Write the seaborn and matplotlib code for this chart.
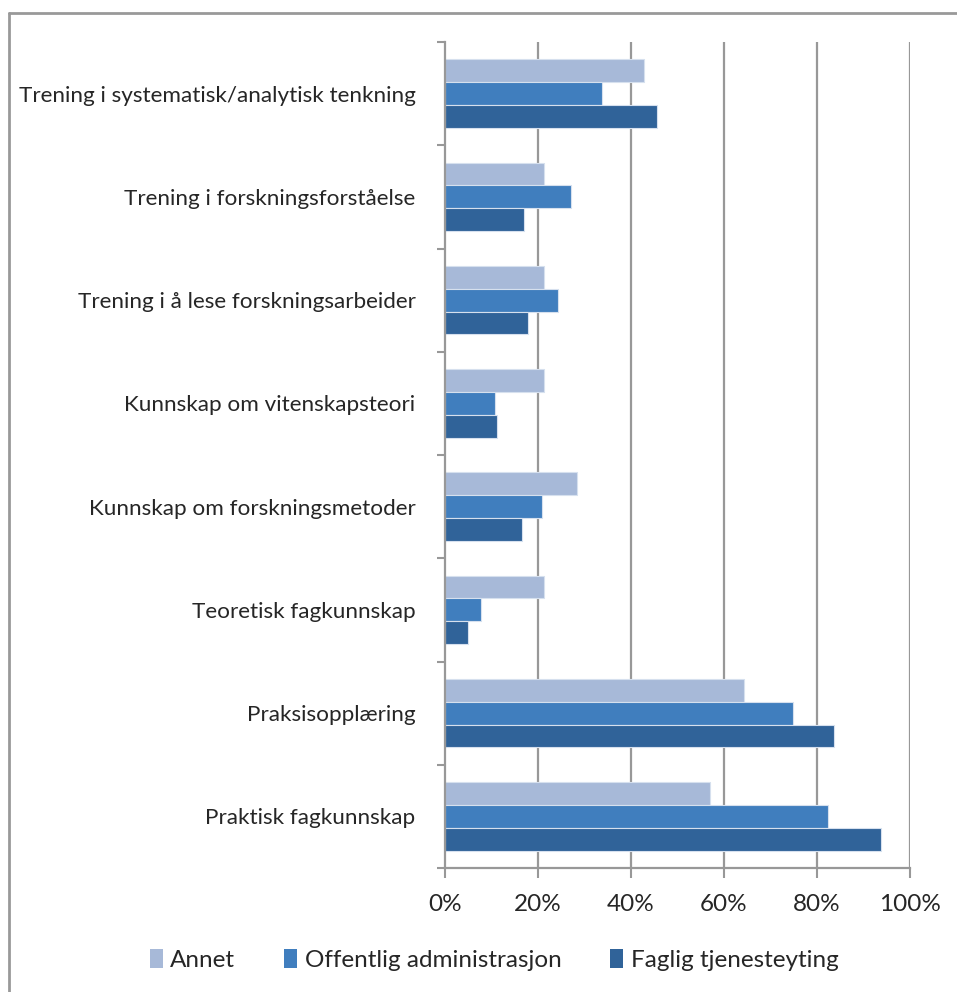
import matplotlib
matplotlib.use("Agg")
import matplotlib.pyplot as plt
from matplotlib.lines import Line2D
from matplotlib.patches import Patch
from matplotlib.ticker import FixedLocator, FuncFormatter
import seaborn as sns
import pandas as pd

# Data (percent)
categories = [
    "Trening i systematisk/analytisk tenkning",
    "Trening i forskningsforståelse",
    "Trening i å lese forskningsarbeider",
    "Kunnskap om vitenskapsteori",
    "Kunnskap om forskningsmetoder",
    "Teoretisk fagkunnskap",
    "Praksisopplæring",
    "Praktisk fagkunnskap",
]
series = ["Annet", "Offentlig administrasjon", "Faglig tjenesteyting"]
annet = [42.8, 21.4, 21.4, 21.4, 28.5, 21.4, 64.3, 57.1]
offentlig = [33.8, 27.1, 24.4, 10.9, 21.0, 7.7, 74.8, 82.4]
faglig = [45.6, 17.1, 17.9, 11.3, 16.6, 5.0, 83.6, 93.7]
x_ticks = [0, 20, 40, 60, 80, 100]
colors = ["#A7B9D8", "#407EBE", "#306399"]

rows = []
for name, vals in zip(series, [annet, offentlig, faglig]):
    for cat, v in zip(categories, vals):
        rows.append({"kategori": cat, "andel": v, "gruppe": name})
df = pd.DataFrame(rows)

sns.set_style("white")
plt.rcParams["font.family"] = ["Lato", "DejaVu Sans"]

W, H = 957, 992
fig = plt.figure(figsize=(W / 100, H / 100), dpi=100)
ax = fig.add_axes([444.7 / W, 1 - 868 / H, (910 - 444.7) / W, (868 - 42) / H])

sns.barplot(
    data=df, y="kategori", x="andel", hue="gruppe", order=categories,
    hue_order=series, palette=colors, saturation=1, orient="h", width=0.665,
    edgecolor="#D6E0EE", linewidth=0.8, ax=ax, legend=False,
)

grid_c = "#989898"
ax.set_xlim(0, 100)
ax.set_ylim(7.5, -0.5)
ax.set_xlabel("")
ax.set_ylabel("")
ax.xaxis.set_major_locator(FixedLocator(x_ticks))
ax.xaxis.set_major_formatter(FuncFormatter(lambda v, p: f"{v:.0f}%"))
for v in x_ticks[1:]:
    ax.axvline(v, color=grid_c, lw=1.6, zorder=0)

ax.yaxis.set_minor_locator(FixedLocator([i - 0.5 for i in range(len(categories) + 1)]))
ax.tick_params(axis="y", which="major", length=0, pad=21, labelsize=16.2)
ax.tick_params(axis="y", which="minor", length=6, width=1.5, color=grid_c, left=True)
ax.tick_params(axis="x", which="major", length=7, width=1.5, color=grid_c,
               bottom=True, pad=12, labelsize=17.5)

for s in ["top", "right"]:
    ax.spines[s].set_visible(False)
for s in ["left", "bottom"]:
    ax.spines[s].set_color(grid_c)
    ax.spines[s].set_linewidth(1.6)

# legend
handles = [Patch(facecolor=c, edgecolor="none") for c in colors]
fig.legend(handles, series, loc="center", bbox_to_anchor=(494 / W, 1 - 960 / H),
           ncol=3, frameon=False, fontsize=17.5, handlelength=0.55, handleheight=0.8,
           handletextpad=0.3, columnspacing=2.0)

# outer chart border
fig.add_artist(Line2D([8.5 / W, 8.5 / W], [0, 1 - 12.5 / H], transform=fig.transFigure,
                      color="#999999", lw=2))
fig.add_artist(Line2D([8.5 / W, 1], [1 - 12.5 / H, 1 - 12.5 / H], transform=fig.transFigure,
                      color="#999999", lw=2))

fig.savefig("out.png", dpi=100, facecolor="white")
